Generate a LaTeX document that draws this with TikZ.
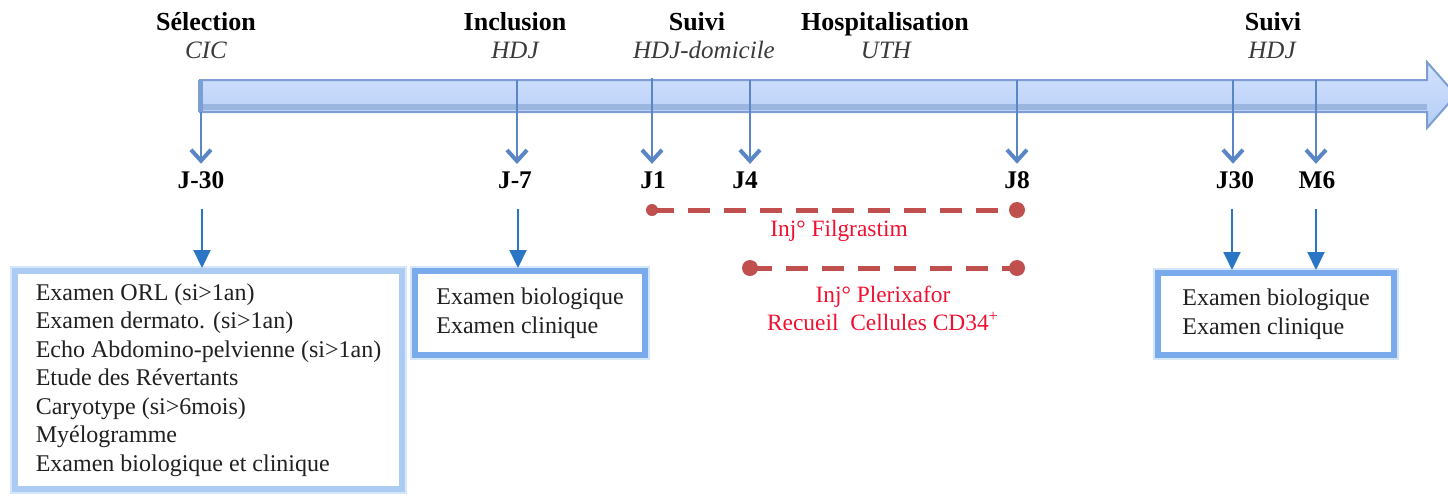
\documentclass[tikz,border=0pt]{standalone}
\usepackage{fontspec}
\setmainfont{LiberationSerif}[Extension=.ttf, UprightFont=*-Regular, BoldFont=*-Bold, ItalicFont=*-Italic, BoldItalicFont=*-BoldItalic]
\usetikzlibrary{arrows.meta}
\definecolor{barfillA}{HTML}{D4E3FF}
\definecolor{barfillB}{HTML}{B4CCF6}
\definecolor{barline}{HTML}{7C9ED2}
\definecolor{barband}{HTML}{9AB5E0}
\definecolor{tickcol}{HTML}{5A86C6}
\definecolor{boxarrowcol}{HTML}{2A75C4}
\definecolor{boxlight}{HTML}{ABCBF3}
\definecolor{boxstrong}{HTML}{78AAEC}
\definecolor{boxhalo}{HTML}{D6E6FB}
\definecolor{dashred}{HTML}{C0504D}
\definecolor{labred}{HTML}{F01030}
\definecolor{subgray}{HTML}{3A3A3A}
\definecolor{boxtext}{HTML}{202020}
\begin{document}
\begin{tikzpicture}[x=0.5pt,y=-0.5pt,
  headtxt/.style={font=\fontsize{13}{15}\selectfont\bfseries, anchor=base, inner sep=0pt},
  subtxt/.style={font=\fontsize{12.5}{14}\selectfont\itshape, text=subgray, anchor=base, inner sep=0pt},
  daytxt/.style={font=\fontsize{12.7}{14}\selectfont\bfseries, anchor=base, inner sep=0pt},
  tickarrow/.style={draw=tickcol, line width=1.25pt, -{Straight Barb[length=5.5pt,width=10pt,line width=2pt]}, shorten >=3.5pt},
  boxarrow/.style={draw=boxarrowcol, line width=1pt, -{Triangle[length=9pt,width=8.5pt]}, shorten <=10pt},
  exbox/.style={draw=boxstrong, line width=3pt, fill=white, align=left, anchor=north west,
    font=\fontsize{12}{14.25}\selectfont, text=boxtext, inner sep=0pt,
    preaction={draw=boxhalo, line width=5pt}},
  dashline/.style={draw=dashred, line width=2.5pt, dash pattern=on 11pt off 7pt},
  reddot/.style={circle, fill=dashred, inner sep=0pt, minimum size=#1},
  redlab/.style={font=\fontsize{11.7}{14}\selectfont, text=labred, anchor=base, inner sep=0pt}
]
\useasboundingbox (0,0) rectangle (1448,495);
\clip (0,0) rectangle (1448,495);

% timeline bar
\path[top color=barfillA, bottom color=barfillB]
  (200,80) -- (1427,80) -- (1427,62) -- (1456,95) -- (1427,128) -- (1427,112) -- (200,112) -- cycle;
\fill[barband] (200,104) rectangle (1427,110);
\draw[barline, line width=1pt, line join=miter]
  (200,80) -- (1427,80) -- (1427,62) -- (1456,95) -- (1427,128) -- (1427,112) -- (200,112) -- cycle;
\draw[barline, line width=2.5pt] (200,80) -- (200,112);

% headers
\node[headtxt] (hSel) at (206,30) {Sélection};
\node[subtxt]  (sSel) at (206,58) {CIC};
\node[headtxt] (hInc) at (515,30) {Inclusion};
\node[subtxt]  (sInc) at (515,58) {HDJ};
\node[headtxt] (hSu1) at (697,30) {Suivi};
\node[subtxt]  (sSu1) at (704,58) {HDJ-domicile};
\node[headtxt] (hHos) at (885,30) {Hospitalisation};
\node[subtxt]  (sHos) at (886,58) {UTH};
\node[headtxt] (hSu2) at (1273,30) {Suivi};
\node[subtxt]  (sSu2) at (1272,58) {HDJ};

% tick start points on the bar
\coordinate (tA) at (201,112);
\coordinate (tB) at (517,80);
\coordinate (tC) at (652,78);
\coordinate (tD) at (750,80);
\coordinate (tE) at (1017,80);
\coordinate (tF) at (1233,80);
\coordinate (tG) at (1316,80);

% day labels
\node[daytxt] (dA) at (201,188) {J-30};
\node[daytxt] (dB) at (515,188) {J-7};
\node[daytxt] (dC) at (653,188) {J1};
\node[daytxt] (dD) at (745,188) {J4};
\node[daytxt] (dE) at (1017,188) {J8};
\node[daytxt] (dF) at (1235,188) {J30};
\node[daytxt] (dG) at (1317,188) {M6};

\draw[tickarrow] (tA) -- (dA.north -| tA);
\draw[tickarrow] (tB) -- (dB.north -| tB);
\draw[tickarrow] (tC) -- (dC.north -| tC);
\draw[tickarrow] (tD) -- (dD.north -| tD);
\draw[tickarrow] (tE) -- (dE.north -| tE);
\draw[tickarrow] (tF) -- (dF.north -| tF);
\draw[tickarrow] (tG) -- (dG.north -| tG);

% exam boxes
\node[exbox, draw=boxlight, minimum width=193.5pt, minimum height=109pt] (bA) at (12,268)
  {Examen ORL (si>1an)\\Examen dermato. (si>1an)\\Echo Abdomino-pelvienne (si>1an)\\Etude des Révertants\\Caryotype (si>6mois)\\Myélogramme\\Examen biologique et clinique};
\node[exbox, minimum width=115pt, minimum height=42pt] (bB) at (412,268)
  {Examen biologique\\Examen clinique};
\node[exbox, minimum width=118pt, minimum height=41pt] (bC) at (1155,270)
  {Examen biologique\\Examen clinique};

\draw[boxarrow] (dA.south -| 202,0) -- (bA.north -| 202,0);
\draw[boxarrow] (dB.south -| 518,0) -- (bB.north -| 518,0);
\draw[boxarrow] (dF.south -| 1232,0) -- (bC.north -| 1232,0);
\draw[boxarrow] (dG.south -| 1316,0) -- (bC.north -| 1316,0);

% treatment periods
\node[reddot=6pt] (pA) at (652,210) {};
\node[reddot=8pt] (pB) at (1017,210) {};
\node[reddot=8pt] (pC) at (750,268) {};
\node[reddot=8pt] (pD) at (1017,268) {};
\draw[dashline] (pA.center) -- (pB.center);
\draw[dashline] (pC.center) -- (pD.center);

\node[redlab] (rA) at (839,236) {Inj° Filgrastim};
\node[redlab] (rB) at (883,302) {Inj° Plerixafor};
\node[redlab] (rC) at (883,330) {Recueil~ Cellules CD34\textsuperscript{+}};
\end{tikzpicture}
\end{document}
